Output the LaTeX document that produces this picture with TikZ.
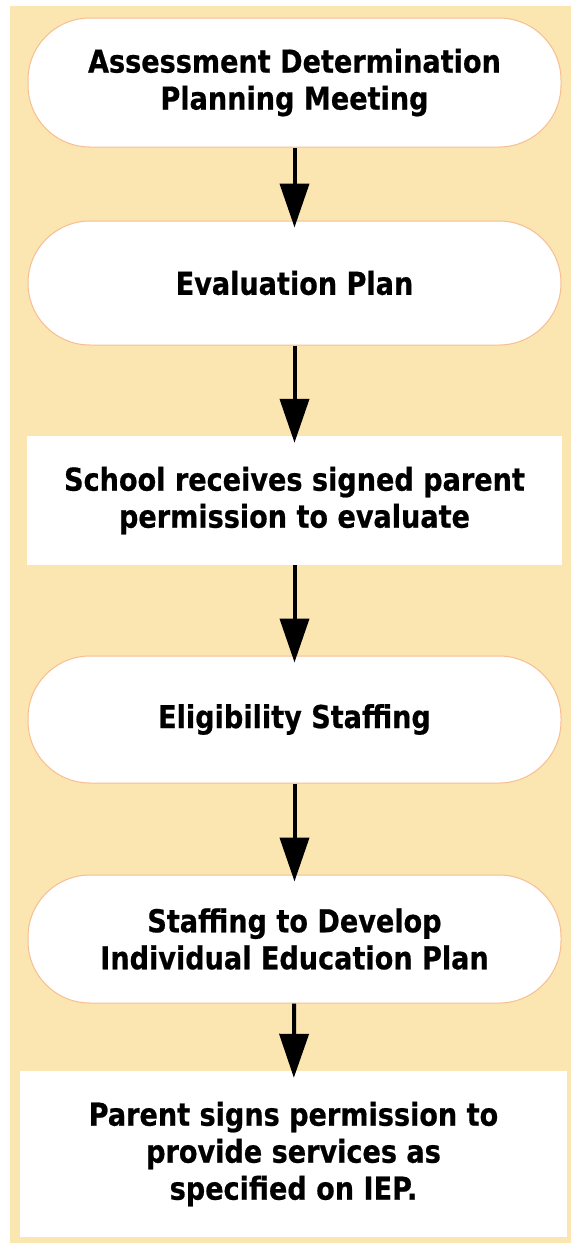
\documentclass[tikz,border=0pt]{standalone}
\usepackage{fontspec}
\setmainfont{DejaVu Sans}
\newfontfamily\stepfont{DejaVu Sans}[FakeStretch=0.86, BoldFeatures={FakeStretch=0.86, FakeBold=0.6}]
\usetikzlibrary{arrows.meta}

\definecolor{pagebg}{RGB}{251,229,177}
\definecolor{stageline}{RGB}{247,190,145}

\tikzset{
	stagefont/.style={font=\stepfont\bfseries\fontsize{31.5}{37}\selectfont},
	stage/.style={stagefont, draw=stageline, line width=1pt, fill=white, rounded corners=62pt, minimum width=533pt, align=center},
	notice/.style={stagefont, fill=white, align=center},
	flow/.style={line width=4pt, -{Triangle[length=44pt,width=29pt]}, shorten >=-7pt}
}

\begin{document}
\begin{tikzpicture}[x=1pt, y=-1pt]
		%%%%% START %%%%%
		\useasboundingbox (0, 0) rectangle (571, 1243);
		\fill[pagebg] (10, 6) rectangle (571, 1243);
		
		\node[stage, minimum height=129pt] (meeting) at (294.5, 82.5) {Assessment Determination\\Planning Meeting};
		\node[stage, minimum height=124pt] (evalplan) at (294.5, 283) {Evaluation Plan};
		\node[notice, minimum width=535pt, minimum height=129pt] (consent) at (294.5, 500.5) {School receives signed parent\\permission to evaluate};
		\node[stage, minimum height=127pt] (eligibility) at (294.5, 719.5) {Eligibility Staffing};
		\node[stage, minimum height=128pt] (iep) at (294.5, 939) {Staffing to Develop\\Individual Education Plan};
		\node[notice, minimum width=547pt, minimum height=166pt] (services) at (293.5, 1154) {Parent signs permission to\\provide services as\\specified on IEP.};
		
		\draw[flow] (meeting) -- (evalplan);
		\draw[flow] (evalplan) -- (consent);
		\draw[flow] (consent) -- (eligibility);
		\draw[flow] (eligibility) -- (iep);
		\draw[flow] (iep) -- (services);
		%%%%% END %%%%%
\end{tikzpicture}
\end{document}
